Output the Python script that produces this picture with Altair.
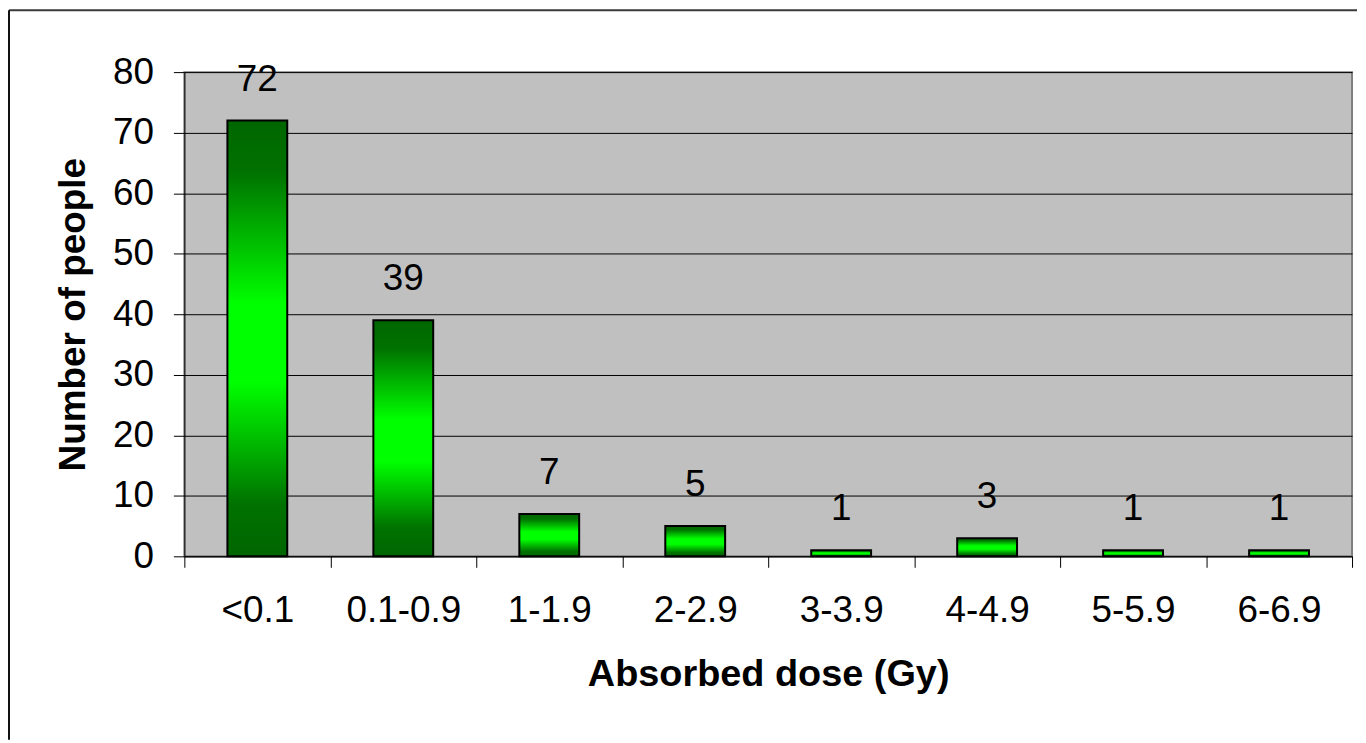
import altair as alt
import pandas as pd

categories = ["<0.1", "0.1-0.9", "1-1.9", "2-2.9", "3-3.9", "4-4.9", "5-5.9", "6-6.9"]
counts = [72, 39, 7, 5, 1, 3, 1, 1]
y_ticks = [0, 10, 20, 30, 40, 50, 60, 70, 80]

df = pd.DataFrame({"dose": categories, "people": counts})

FONT = "Liberation Sans"

gradient = alt.Gradient(
    gradient="linear",
    x1=0, x2=0, y1=0, y2=1,
    stops=[
        alt.GradientStop(color="#006600", offset=0),
        alt.GradientStop(color="#007200", offset=0.12),
        alt.GradientStop(color="#00FF00", offset=0.42),
        alt.GradientStop(color="#00FF00", offset=0.6),
        alt.GradientStop(color="#007200", offset=0.88),
        alt.GradientStop(color="#006600", offset=1),
    ],
)

x_enc = alt.X(
    "dose:N",
    sort=categories,
    scale=alt.Scale(paddingInner=0, paddingOuter=0),
    axis=alt.Axis(
        title="Absorbed dose (Gy)",
        labelAngle=0,
        tickBand="extent",
        tickSize=11,
        tickColor="black",
        domainColor="black",
        labelFontSize=37,
        labelFont=FONT,
        labelColor="black",
        labelPadding=25,
        titleFontSize=38,
        titleFont=FONT,
        titleFontWeight="bold",
        titleColor="black",
        titlePadding=28,
        grid=False,
    ),
)

y_enc = alt.Y(
    "people:Q",
    scale=alt.Scale(domain=[0, 80], nice=False),
    axis=alt.Axis(
        title="Number of people",
        values=y_ticks,
        tickSize=11,
        tickColor="black",
        domainColor="black",
        grid=True,
        gridColor="black",
        gridWidth=1,
        labelFontSize=37,
        labelFont=FONT,
        labelColor="black",
        labelPadding=20,
        titleFontSize=37,
        titleFont=FONT,
        titleFontWeight="bold",
        titleColor="black",
        titlePadding=20,
    ),
)

bars = alt.Chart(df).mark_bar(
    color=gradient, stroke="black", strokeWidth=2,
    width=alt.RelativeBandSize(0.41),
).encode(x=x_enc, y=y_enc)

labels = alt.Chart(df).mark_text(
    dy=-30, baseline="alphabetic", fontSize=37, font=FONT, color="black"
).encode(
    x=alt.X("dose:N", sort=categories),
    y=alt.Y("people:Q"),
    text=alt.Text("people:Q"),
)

frame_data = alt.Data(values=[{"k": 1}])
frame_top = alt.Chart(frame_data).mark_rule(color="#3a3a3a", strokeWidth=2, clip=False).encode(
    x=alt.value(-176), x2=alt.value(1177), y=alt.value(-62)
)
frame_left = alt.Chart(frame_data).mark_rule(color="#111111", strokeWidth=2, clip=False).encode(
    x=alt.value(-176), y=alt.value(-62), y2=alt.value(670)
)

chart = alt.layer(bars, labels, frame_top, frame_left).properties(
    width=1172, height=486, padding=0, background="white"
).configure_view(
    fill="#C0C0C0", stroke="#808080", strokeWidth=2
)

chart.save("out.html", embed_options={"renderer": "svg", "actions": False})
